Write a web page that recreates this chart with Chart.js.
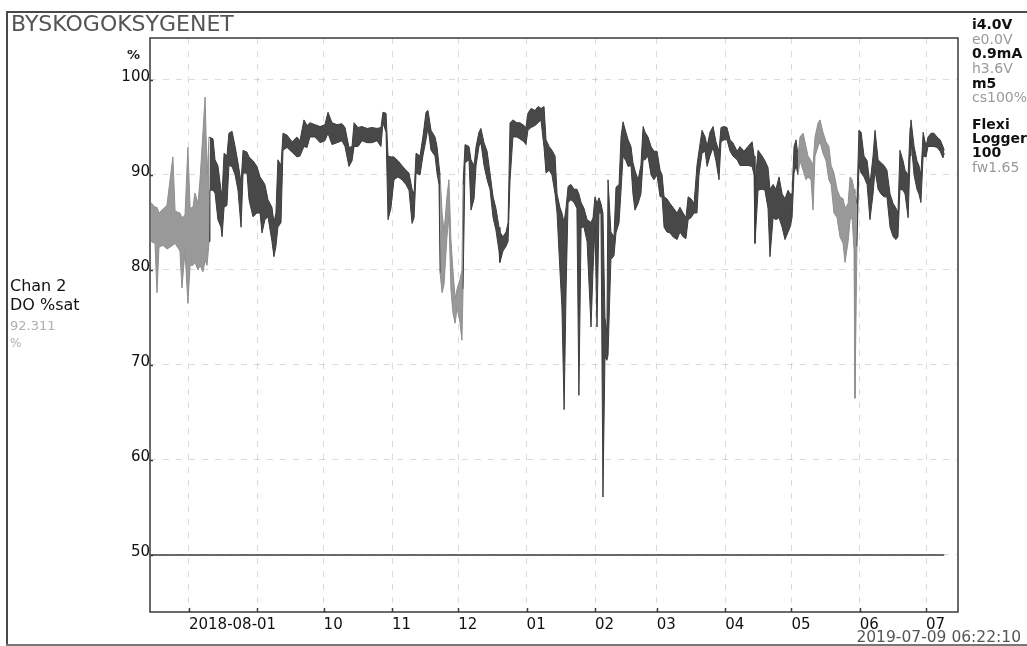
<!DOCTYPE html>
<html>
<head>
<meta charset="utf-8">
<title>BYSKOGOKSYGENET – Chan 2 DO %sat</title>
<script src="https://cdn.jsdelivr.net/npm/chart.js@4.4.1/dist/chart.umd.min.js"></script>
<style>
  html, body { margin: 0; padding: 0; background: #fff; }
  #wrap { position: relative; width: 1027px; height: 646px; overflow: hidden; background: #fff;
          font-family: 'DejaVu Sans', sans-serif; }
  #chart { position: absolute; left: 0; top: 0; }
  .t { position: absolute; white-space: nowrap; line-height: 1; }
  .rule { position: absolute; background: #4a4a4a; }
  .blk { color: #111; }
  .gry { color: #9a9a9a; }
</style>
</head>
<body>
<div id="wrap">
  <canvas id="chart" width="1027" height="646"></canvas>

  <!-- logger frame -->
  <div class="rule" style="left:7px; top:11px; width:1020px; height:2px;"></div>
  <div class="rule" style="left:6px; top:11px; width:2px; height:635px;"></div>
  <div class="rule" style="left:6px; top:644px; width:1021px; height:2px; background:#777;"></div>

  <div class="t" style="left:11px; top:13px; font-size:22px; color:#555;">BYSKOGOKSYGENET</div>
  <div class="t" style="left:127px; top:48px; font-size:13px; font-weight:bold; color:#222;">%</div>

  <!-- channel caption -->
  <div class="t blk" style="left:10px; top:278px; font-size:16px;">Chan 2</div>
  <div class="t blk" style="left:10px; top:297px; font-size:16px;">DO %sat</div>
  <div class="t" style="left:10px; top:319px; font-size:13px; color:#b0b0b0;">92.311</div>
  <div class="t" style="left:10px; top:337px; font-size:12px; color:#b0b0b0;">%</div>

  <!-- logger status -->
  <div class="t blk" style="left:972px; top:17px; font-size:14px; font-weight:bold;">i4.0V</div>
  <div class="t gry" style="left:972px; top:32px; font-size:14px;">e0.0V</div>
  <div class="t blk" style="left:972px; top:46px; font-size:14px; font-weight:bold;">0.9mA</div>
  <div class="t gry" style="left:972px; top:61px; font-size:14px;">h3.6V</div>
  <div class="t blk" style="left:972px; top:76px; font-size:14px; font-weight:bold;">m5</div>
  <div class="t gry" style="left:972px; top:90px; font-size:14px;">cs100%</div>
  <div class="t blk" style="left:972px; top:117px; font-size:14px; font-weight:bold;">Flexi</div>
  <div class="t blk" style="left:972px; top:131px; font-size:14px; font-weight:bold;">Logger</div>
  <div class="t blk" style="left:972px; top:145px; font-size:14px; font-weight:bold;">100</div>
  <div class="t gry" style="left:972px; top:160px; font-size:14px;">fw1.65</div>

  <div class="t" style="right:6px; top:630px; font-size:15.5px; color:#555;">2019-07-09 06:22:10</div>
</div>

<script>
// Time axis: days since 2018-07-01 00:00.
const monthStartDay = [31, 62, 92, 123, 153, 184, 215, 243, 274, 304, 335, 365];
const monthLabel = ['2018-08-01', '', '10', '11', '12', '01', '02', '03', '04', '05', '06', '07'];
const yTickValues = [50, 60, 70, 80, 90, 100];

// DO %sat record, min/max envelope of the logged samples.
const sampleDay = [
  13.8,15.6,16.5,17.4,19.2,21.0,23.7,24.7,26.9,27.8,29.2,30.5,
  31.5,32.8,33.7,35.1,36.0,37.3,38.3,39.2,40.1,40.5,41.9,42.8,
  44.1,45.5,46.0,46.9,48.2,49.1,50.5,51.9,53.2,54.6,55.5,57.3,
  58.2,60.0,61.8,63.2,64.1,65.4,66.8,68.6,69.5,70.4,71.3,72.7,
  73.6,75.4,77.7,79.9,81.3,83.1,84.5,85.8,88.1,90.4,92.6,94.0,
  95.8,98.1,100.3,101.7,103.5,104.9,105.8,107.6,109.4,111.7,113.9,116.2,
  118.0,118.9,120.3,121.2,122.5,123.9,125.7,127.5,129.3,130.7,132.1,133.0,
  133.9,135.7,137.0,138.4,139.3,140.7,142.5,143.4,144.3,144.8,145.7,146.6,
  147.9,148.8,149.7,150.6,151.6,152.5,153.8,154.7,155.2,156.1,157.9,158.8,
  160.2,161.1,162.4,163.3,164.7,166.1,167.4,168.8,170.1,171.5,171.9,173.3,
  174.7,175.6,176.5,177.8,179.6,181.0,182.8,183.7,184.6,186.0,187.8,189.2,
  190.5,191.9,192.8,194.2,195.5,196.9,197.8,199.1,200.0,201.0,201.9,202.8,
  204.1,205.5,206.8,207.7,208.7,210.0,211.4,213.2,214.1,215.0,215.9,216.8,
  217.7,218.6,219.5,220.4,220.9,222.2,223.6,224.5,225.9,226.8,227.7,229.0,
  230.0,231.3,232.2,233.1,234.5,235.8,236.8,237.7,239.0,240.4,241.7,243.1,
  244.5,245.4,246.3,247.6,249.0,250.3,252.2,253.5,254.9,256.2,257.2,258.5,
  259.9,261.2,262.1,263.5,264.9,265.8,267.1,268.5,269.8,271.2,272.1,273.5,
  274.8,276.2,277.5,279.4,280.7,282.5,284.3,286.2,287.1,287.5,288.9,290.7,
  292.0,293.4,294.3,295.7,297.0,298.4,299.8,301.1,302.5,303.4,304.3,305.2,
  306.1,307.0,307.9,309.3,310.6,311.5,312.9,313.8,314.7,316.1,317.0,318.3,
  319.7,321.0,322.0,323.3,324.7,326.0,327.4,328.3,329.7,330.6,331.5,332.4,
  332.8,333.7,334.6,335.6,336.9,338.3,339.6,341.0,341.9,343.3,344.6,346.0,
  347.3,348.7,350.1,351.4,352.3,353.2,354.6,355.5,356.9,357.8,358.2,359.6,
  360.9,361.8,362.7,363.7,365.0,365.9,367.3,368.6,370.0,371.4,372.7,373.27
];
const maxPct = [
  87.1,86.6,86.6,86.0,86.4,86.8,91.9,86.2,86.0,85.5,85.8,92.9,
  86.5,86.6,88.1,87.0,89.5,94.4,98.2,90.0,94.0,94.0,93.8,91.6,
  91.0,88.4,88.0,92.3,92.0,94.4,94.6,93.0,91.3,89.2,92.6,92.4,
  91.9,91.5,90.9,89.8,89.5,89.0,87.4,86.6,85.0,86.0,91.6,91.0,
  94.4,94.2,93.5,94.0,93.6,95.8,95.2,95.5,95.3,95.1,95.3,96.6,
  95.5,95.3,95.4,95.0,92.9,93.0,95.5,95.0,95.1,94.9,95.0,94.9,
  95.0,96.6,96.5,92.0,91.9,91.9,91.5,91.0,90.5,90.2,88.5,88.0,
  92.3,92.0,94.0,96.6,96.8,94.7,94.0,93.0,91.0,90.0,86.0,84.0,
  87.7,89.5,83.2,80.0,77.0,78.0,79.0,80.0,89.0,93.2,93.0,91.6,
  91.0,93.0,94.5,94.9,93.4,92.5,90.2,87.7,86.5,84.5,84.0,83.5,
  84.0,85.0,95.5,95.8,95.5,95.5,95.2,95.0,96.5,97.0,96.8,97.2,
  97.0,97.2,93.7,93.0,92.6,92.0,88.0,86.6,86.0,85.0,86.6,88.8,
  89.0,88.5,88.5,88.0,87.1,86.5,85.3,85.0,85.5,87.7,87.0,87.6,
  87.0,86.0,75.0,73.4,89.5,84.0,83.5,88.7,89.0,94.0,95.6,94.5,
  93.7,93.0,91.3,90.5,89.5,91.0,95.1,94.5,94.0,93.0,92.5,92.5,
  90.5,90.0,87.7,87.5,87.0,86.6,86.0,86.6,86.0,85.5,87.7,87.5,
  87.0,91.0,92.5,94.7,94.0,93.0,94.5,95.1,93.5,92.5,95.0,95.1,
  95.0,93.7,93.4,92.5,93.0,92.5,93.0,93.5,92.0,89.0,92.6,92.0,
  91.5,90.8,88.5,89.0,88.5,89.8,88.0,87.5,88.4,88.0,88.0,93.0,
  93.7,92.0,94.0,94.4,93.0,92.0,91.5,91.0,94.0,95.5,95.8,94.5,
  93.5,93.0,91.0,90.2,88.5,87.7,87.5,86.5,87.0,89.8,89.5,88.5,
  88.0,87.0,94.7,94.5,92.0,91.5,89.0,92.0,94.7,91.6,91.3,91.0,
  90.5,88.0,87.0,86.5,86.0,92.6,91.5,90.5,90.0,95.0,95.8,93.0,
  91.5,91.0,90.0,94.5,93.0,94.0,94.4,94.4,94.0,93.7,93.0,92.6
];
const minPct = [
  83.0,82.8,77.6,82.4,82.6,82.2,82.6,82.8,82.0,78.1,82.0,76.5,
  80.5,80.5,80.8,80.0,80.5,79.8,81.0,80.5,83.0,88.4,88.4,88.1,
  85.3,84.5,83.5,86.6,86.8,91.0,90.9,90.0,88.4,84.5,90.2,90.2,
  87.4,85.6,86.0,86.0,83.9,85.3,85.6,83.0,81.4,82.5,84.5,85.0,
  92.6,92.9,92.4,91.9,92.0,93.0,92.9,94.0,94.0,93.4,93.6,94.4,
  93.2,93.4,93.6,93.0,90.9,91.5,93.0,93.0,93.6,93.4,93.4,93.6,
  93.0,95.5,94.5,85.3,86.5,89.5,89.8,89.5,89.0,88.4,84.9,85.5,
  90.2,90.0,92.0,93.7,95.0,92.6,92.0,90.2,89.0,79.7,77.6,78.5,
  83.5,85.6,78.0,75.5,74.4,76.0,74.5,72.6,78.0,91.3,91.6,86.3,
  87.5,91.0,93.0,93.4,91.0,89.5,88.5,85.5,84.2,82.0,80.8,82.0,
  82.5,83.0,89.5,94.0,94.0,93.8,93.5,93.2,94.7,95.0,95.2,95.5,
  95.8,92.9,90.2,90.5,90.0,88.0,86.0,80.0,76.1,65.3,78.0,87.1,
  87.4,87.1,86.5,66.8,84.5,84.5,83.0,74.0,80.0,84.5,74.0,86.0,
  86.0,56.1,70.8,70.5,71.0,81.1,81.5,83.9,85.0,88.4,92.0,91.5,
  90.9,91.0,88.0,86.3,87.0,88.0,91.6,91.6,92.0,90.0,89.5,90.0,
  87.7,87.7,84.5,84.0,83.9,83.5,83.2,84.0,83.5,83.3,85.3,85.5,
  86.0,86.0,90.0,92.3,92.5,90.9,92.0,92.9,91.5,89.5,93.5,93.7,
  93.7,92.5,92.0,91.6,91.0,91.0,91.0,90.9,90.0,82.8,88.4,88.5,
  88.4,86.5,81.4,85.5,85.3,85.5,84.5,83.2,84.0,84.5,85.5,90.2,
  91.0,90.0,91.5,90.5,89.5,89.8,89.5,86.3,92.0,93.0,93.5,92.3,
  91.5,89.5,89.0,86.0,85.5,83.5,82.8,80.8,83.0,85.3,85.5,82.0,
  66.5,82.5,91.0,90.2,89.8,89.0,85.3,88.0,90.5,88.5,88.0,87.7,
  87.7,84.5,83.5,83.2,83.5,88.5,88.4,88.0,85.5,92.0,93.7,90.0,
  88.5,88.0,87.1,92.0,91.9,93.0,93.0,93.0,92.9,92.5,91.8,92.311
];
// Alarm level line across the record.
const alarmLevel = [50, 50];

// Stretches of the trace drawn in the lighter pen.
const lightSpans = [[13.8, 40.1], [144.8, 155.2], [307.0, 333.7]];
const DARK = '#3c3c3c', DARK_FILL = '#484848';
const LIGHT = '#8e8e8e', LIGHT_FILL = '#999999';

function inLight(c) {
  const a = c.p0.parsed.x, b = c.p1.parsed.x;
  return lightSpans.some(([s, e]) => a >= s && b <= e);
}

const tickFont = { family: 'DejaVu Sans', size: 15 };
// Fixed axis boxes so the plot area sits at x 150..958, y 38..612.
const Y_AXIS_W = 60, X_AXIS_H = 30;

// Plot frame plus inward tick marks.
const plotFrame = {
  id: 'plotFrame',
  afterDatasetsDraw(chart) {
    const { ctx, chartArea: a, scales: { x, y } } = chart;
    ctx.save();
    ctx.strokeStyle = '#3a3a3a';
    ctx.lineWidth = 1.5;
    ctx.strokeRect(a.left, a.top, a.right - a.left, a.bottom - a.top);
    ctx.beginPath();
    x.ticks.forEach((t, i) => {
      const px = Math.round(x.getPixelForTick(i)) + 0.5;
      ctx.moveTo(px, a.bottom); ctx.lineTo(px, a.bottom - 4);
    });
    y.ticks.forEach((t, i) => {
      const py = Math.round(y.getPixelForTick(i)) + 0.5;
      ctx.moveTo(a.left, py); ctx.lineTo(a.left + 3, py);
    });
    ctx.stroke();
    ctx.restore();
  }
};

new Chart(document.getElementById('chart'), {
  type: 'line',
  data: {
    datasets: [
      {
        label: 'max',
        data: sampleDay.map((d, i) => ({ x: d, y: maxPct[i] })),
        borderColor: DARK,
        borderWidth: 1,
        pointRadius: 0,
        fill: false,
        segment: { borderColor: c => inLight(c) ? LIGHT : DARK }
      },
      {
        label: 'min',
        data: sampleDay.map((d, i) => ({ x: d, y: minPct[i] })),
        borderColor: DARK,
        backgroundColor: DARK_FILL,
        borderWidth: 1,
        pointRadius: 0,
        fill: '-1',
        segment: {
          borderColor: c => inLight(c) ? LIGHT : DARK,
          backgroundColor: c => inLight(c) ? LIGHT_FILL : DARK_FILL
        }
      },
      {
        label: 'level',
        data: [
          { x: sampleDay[0], y: alarmLevel[0] },
          { x: sampleDay[sampleDay.length - 1], y: alarmLevel[1] }
        ],
        borderColor: '#3a3a3a',
        borderWidth: 1.5,
        pointRadius: 0,
        fill: false
      }
    ]
  },
  options: {
    responsive: false,
    animation: false,
    devicePixelRatio: 1,
    layout: { padding: { left: 150 - Y_AXIS_W, top: 38, right: 69, bottom: 34 - X_AXIS_H } },
    plugins: { legend: { display: false }, tooltip: { enabled: false } },
    scales: {
      x: {
        type: 'linear',
        min: 13.33,
        max: 379.5,
        afterBuildTicks: s => { s.ticks = monthStartDay.map(v => ({ value: v })); },
        afterFit: s => { s.height = X_AXIS_H; s.paddingLeft = 0; s.paddingRight = 0; },
        ticks: {
          callback: (v, i) => monthLabel[i],
          align: 'start',
          autoSkip: false,
          maxRotation: 0,
          padding: 4,
          color: '#111',
          font: tickFont
        },
        grid: { color: 'rgba(0,0,0,0.14)', lineWidth: 1, drawTicks: false },
        border: { display: false, dash: [6, 7] }
      },
      y: {
        type: 'linear',
        min: 44,
        max: 104.42,
        afterBuildTicks: s => { s.ticks = yTickValues.map(v => ({ value: v })); },
        afterFit: s => { s.width = Y_AXIS_W; s.paddingTop = 0; s.paddingBottom = 0; },
        ticks: {
          padding: 0,
          labelOffset: -3,
          color: '#111',
          font: tickFont
        },
        grid: { color: 'rgba(0,0,0,0.14)', lineWidth: 1, drawTicks: false },
        border: { display: false, dash: [6, 7] }
      }
    }
  },
  plugins: [plotFrame]
});
</script>
</body>
</html>
